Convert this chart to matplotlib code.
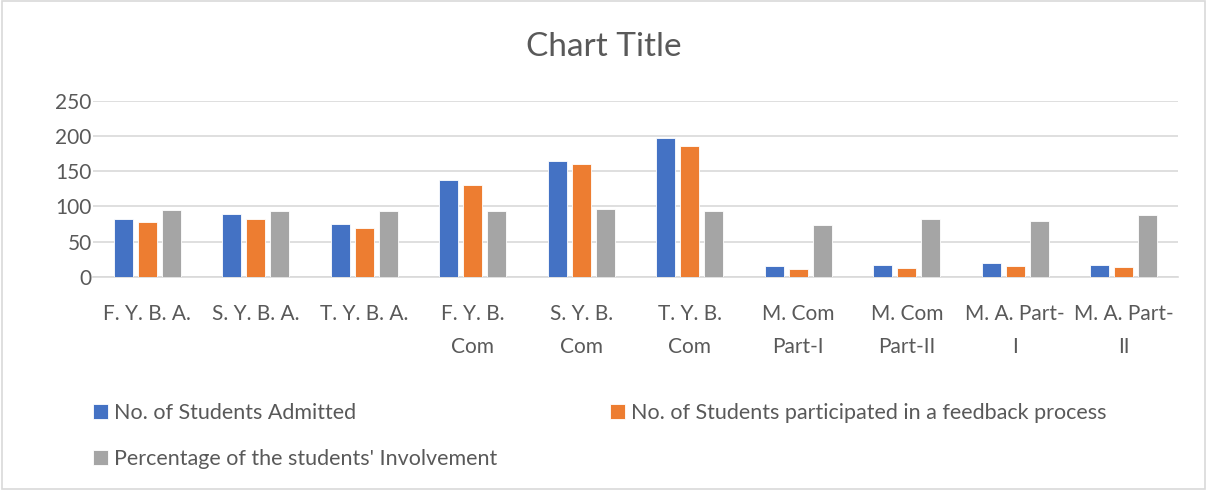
import matplotlib.pyplot as plt
import numpy as np
from matplotlib.patches import Rectangle

# Data
classes = ["F. Y. B. A.", "S. Y. B. A.", "T. Y. B. A.", "F. Y. B.\nCom",
           "S. Y. B.\nCom", "T. Y. B.\nCom", "M. Com\nPart-I",
           "M. Com\nPart-II", "M. A. Part-\nI", "M. A. Part-\nII"]
admitted = [82, 89, 75, 138, 165, 197, 15, 17, 20, 17]
participated = [77, 82, 69, 130, 160, 185, 11, 13, 15, 14]
involvement = [95, 93, 93, 94, 96, 93, 74, 82, 79, 88]

series_names = ["No. of Students Admitted",
                "No. of Students participated in a feedback process",
                "Percentage of the students' Involvement"]
colors = ["#4472C4", "#ED7D31", "#A5A5A5"]
text_color = "#595959"

plt.rcParams["font.family"] = ["Lato", "DejaVu Sans"]

fig = plt.figure(figsize=(12.07, 4.9), dpi=100)
ax = fig.add_axes([0.077, 0.4353, 0.899, 0.3592])

x = np.arange(len(classes))
step = 0.221
width = 0.172
bars = []
for i, vals in enumerate([admitted, participated, involvement]):
    b = ax.bar(x + (i - 1) * step, vals, width, color=colors[i],
               edgecolor="white", linewidth=0.6, label=series_names[i],
               zorder=3)
    bars.append(b)

ax.set_xlim(-0.5, len(classes) - 0.5)
ax.set_ylim(0, 250)
ax.set_yticks(range(0, 251, 50))
ax.yaxis.grid(True, color="#d9d9d9", linewidth=1.2, zorder=0)
ax.set_xticks(x)
ax.set_xticklabels(classes, fontsize=15, color=text_color, linespacing=1.8)
ax.tick_params(axis="y", labelsize=15, labelcolor=text_color, length=0,
               pad=1)
ax.tick_params(axis="x", length=0, pad=20)
for side in ["top", "right", "left"]:
    ax.spines[side].set_visible(False)
ax.spines["bottom"].set_color("#d9d9d9")
ax.spines["bottom"].set_linewidth(1.2)

fig.text(0.5, 0.904, "Chart Title", ha="center", va="center",
         fontsize=24, color=text_color)

# legend, laid out row by row like the original
handles = [bars[0], bars[2], bars[1]]
labels = [series_names[0], series_names[2], series_names[1]]
fig.legend(handles, labels, loc="upper left", bbox_to_anchor=(0.068, 0.2),
           ncol=2, frameon=False, fontsize=15.5, labelcolor=text_color,
           handlelength=0.7, handleheight=0.7, handletextpad=0.3,
           columnspacing=5.2, labelspacing=1.2, borderpad=0)

fig.patches.append(Rectangle((0.002, 0.003), 0.996, 0.994,
                             transform=fig.transFigure, fill=False,
                             edgecolor="#d9d9d9", linewidth=1.2))

fig.savefig("out.png", dpi=100)
